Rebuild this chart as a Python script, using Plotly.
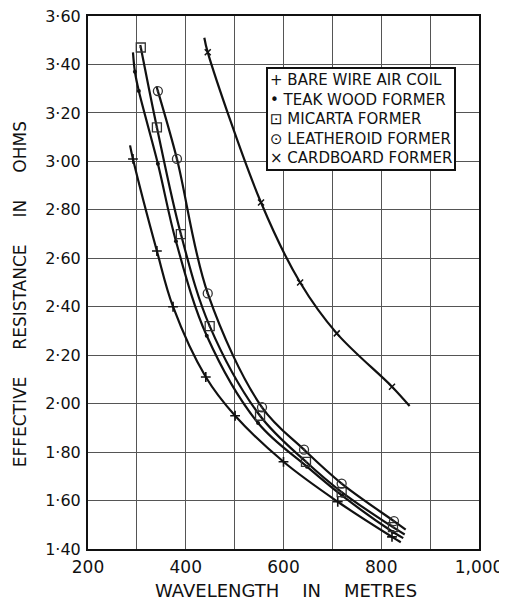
import plotly.graph_objects as go

# ---- data ----
bare_x = [292, 341, 374, 441, 501, 600, 711, 822]
bare_y = [3.01, 2.63, 2.40, 2.11, 1.95, 1.76, 1.595, 1.45]
bare_start = (286, 3.066)
bare_end = (840, 1.428)

teak_x = [296, 304, 343, 380, 443, 548, 648, 720, 824]
teak_y = [3.37, 3.29, 2.99, 2.67, 2.28, 1.92, 1.74, 1.62, 1.47]
teak_start = (292, 3.45)
teak_end = (845, 1.445)

micarta_x = [308, 341, 390, 449, 552, 646, 719, 824]
micarta_y = [3.47, 3.14, 2.70, 2.32, 1.95, 1.76, 1.635, 1.49]
micarta_start = (307, 3.48)
micarta_end = (848, 1.46)

leath_x = [343, 382, 445, 556, 642, 719, 826]
leath_y = [3.29, 3.01, 2.455, 1.985, 1.81, 1.67, 1.515]
leath_start = (340, 3.31)
leath_end = (850, 1.48)

card_x = [445, 554, 634, 709, 822]
card_y = [3.45, 2.83, 2.50, 2.29, 2.07]
card_start = (438, 3.51)
card_end = (858, 1.99)

x_ticks = [200, 300, 400, 500, 600, 700, 800, 900, 1000]
x_labels = ["200", "", "400", "", "600", "", "800", "", "1,000"]
y_ticks = [1.40, 1.60, 1.80, 2.00, 2.20, 2.40, 2.60, 2.80, 3.00, 3.20, 3.40, 3.60]
y_labels = ["1·40", "1·60", "1·80", "2·00", "2·20", "2·40", "2·60", "2·80",
            "3·00", "3·20", "3·40", "3·60"]

legend_lines = ["+ BARE WIRE AIR COIL", "• TEAK WOOD FORMER", "⊡ MICARTA FORMER",
                "⊙ LEATHEROID FORMER", "× CARDBOARD FORMER"]

series = [
    ("Bare wire air coil", bare_x, bare_y, bare_start, bare_end,
     dict(symbol="cross-thin", size=7, line=dict(width=1.6, color="#111"), color="#111")),
    ("Teak wood former", teak_x, teak_y, teak_start, teak_end,
     dict(symbol="circle", size=4, color="#111")),
    ("Micarta former", micarta_x, micarta_y, micarta_start, micarta_end,
     dict(symbol="square-open-dot", size=9, line=dict(width=1.3, color="#333"), color="#333")),
    ("Leatheroid former", leath_x, leath_y, leath_start, leath_end,
     dict(symbol="circle-open-dot", size=9, line=dict(width=1.3, color="#333"), color="#333")),
    ("Cardboard former", card_x, card_y, card_start, card_end,
     dict(symbol="x-thin", size=6, line=dict(width=1.5, color="#111"), color="#111")),
]

fig = go.Figure()
for name, xs, ys, s, e, mk in series:
    fig.add_trace(go.Scatter(
        x=[s[0]] + xs + [e[0]], y=[s[1]] + ys + [e[1]],
        mode="lines", line=dict(color="#111", width=2.2, shape="spline", smoothing=1.0),
        showlegend=False, hoverinfo="skip"))
    fig.add_trace(go.Scatter(x=xs, y=ys, mode="markers", marker=mk, name=name,
                             showlegend=False))

font = "DejaVu Sans"
# the page body has an 8px margin, so the figure is drawn 8px smaller
fig.update_layout(
    width=499, height=595,
    margin=dict(l=80, r=28, t=8, b=54),
    paper_bgcolor="white", plot_bgcolor="white",
    font=dict(family=font, color="#111"),
    xaxis=dict(range=[200, 1000], tickvals=x_ticks, ticktext=x_labels,
               showgrid=True, gridcolor="#555", gridwidth=1.2,
               showline=True, linecolor="#111", linewidth=2, mirror=True,
               ticks="", tickfont=dict(size=17, family=font, color="#111"),
               zeroline=False, ticklabelstandoff=2, automargin=False,
               ticklabeloverflow="allow"),
    yaxis=dict(range=[1.40, 3.60], tickvals=y_ticks, ticktext=y_labels,
               showgrid=True, gridcolor="#555", gridwidth=1.2,
               showline=True, linecolor="#111", linewidth=2, mirror=True,
               ticks="", tickfont=dict(size=16, family=font, color="#111"),
               zeroline=False, ticklabelstandoff=2, automargin=False,
               ticklabeloverflow="allow"),
)

nb = "\u00a0"
fig.add_annotation(
    text=("EFFECTIVE" + nb * 5 + "RESISTANCE" + nb * 5 + "IN" + nb * 5 + "OHMS"),
    xref="paper", yref="paper", x=-0.175, y=0.477, xanchor="center", yanchor="middle",
    textangle=-90, showarrow=False, font=dict(size=17, family=font, color="#111"))
fig.add_annotation(
    text=("WAVELENGTH" + nb * 4 + "IN" + nb * 4 + "METRES"),
    xref="paper", yref="paper", x=0.506, y=-0.077, xanchor="center", yanchor="middle",
    showarrow=False, font=dict(size=18, family=font, color="#111"))
fig.add_annotation(
    text="<br>".join(legend_lines), align="left",
    xref="paper", yref="paper", x=0.455, y=0.904, xanchor="left", yanchor="top",
    showarrow=False, bgcolor="white", bordercolor="#111", borderwidth=2, borderpad=2,
    font=dict(size=15, family=font, color="#111"))

fig.write_html("out.html")
